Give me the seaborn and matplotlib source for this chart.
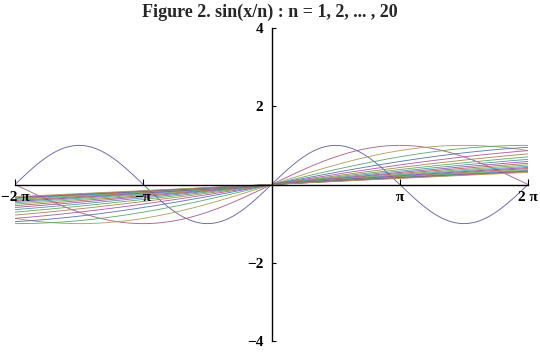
import numpy as np
import pandas as pd
import matplotlib
matplotlib.use("Agg")
import matplotlib.pyplot as plt
import seaborn as sns
import colorsys

# ---- data ----
title = "Figure 2. sin(x/n) : n = 1, 2, ... , 20"
n_values = list(range(1, 21))
x_range = [-2 * np.pi, 2 * np.pi]
y_range = [-4, 4]
x_ticks = [-2 * np.pi, -np.pi, np.pi, 2 * np.pi]
x_tick_labels = ["\u22122 \u03c0", "\u2212\u03c0", "\u03c0", "2 \u03c0"]
y_ticks = [-4, -2, 2, 4]
y_tick_labels = ["\u22124", "\u22122", "2", "4"]

xs = np.linspace(x_range[0], x_range[1], 600)
frames = []
for n in n_values:
    frames.append(pd.DataFrame({"x": xs, "y": np.sin(xs / n), "n": n}))
df = pd.concat(frames, ignore_index=True)

# Mathematica-style default colour cycle
palette = {}
for k, n in enumerate(n_values):
    h = (0.67 + k * 0.2360679774997897) % 1.0
    palette[n] = colorsys.hsv_to_rgb(h, 0.5, 0.65)

sns.set_theme(style="white")
plt.rcParams["font.family"] = ["Liberation Serif", "DejaVu Serif"]

fig = plt.figure(figsize=(5.4, 3.53), dpi=100)
ax = fig.add_axes([15 / 540, 12 / 353, 513 / 540, 313 / 353])

sns.lineplot(data=df, x="x", y="y", hue="n", palette=palette,
             linewidth=0.65, alpha=0.9, legend=False, ax=ax, sort=False,
             estimator=None)

ax.set_xlim(x_range)
ax.set_ylim(y_range)
ax.set_axisbelow(False)
ax.spines["left"].set_position("zero")
ax.spines["bottom"].set_position("zero")
ax.spines["top"].set_visible(False)
ax.spines["right"].set_visible(False)
for s in ("left", "bottom"):
    ax.spines[s].set_color("black")
    ax.spines[s].set_linewidth(1.0)
    ax.spines[s].set_zorder(3)

ax.set_xticks(x_ticks)
ax.set_xticklabels(x_tick_labels, fontweight="bold", fontsize=11)
ax.set_yticks(y_ticks)
ax.set_yticklabels(y_tick_labels, fontweight="bold", fontsize=11)
ax.tick_params(axis="x", direction="in", length=4, width=0.8, pad=5,
               colors="black", bottom=True)
ax.tick_params(axis="y", direction="in", length=3, width=0.8, pad=6,
               colors="black", left=True)
ax.set_xlabel("")
ax.set_ylabel("")
ax.grid(False)
ax.patch.set_alpha(0)

fig.text(0.5, 1 - 12 / 353, title, ha="center", va="center",
         fontsize=13, fontweight="bold")

fig.savefig("out.png", dpi=100)
